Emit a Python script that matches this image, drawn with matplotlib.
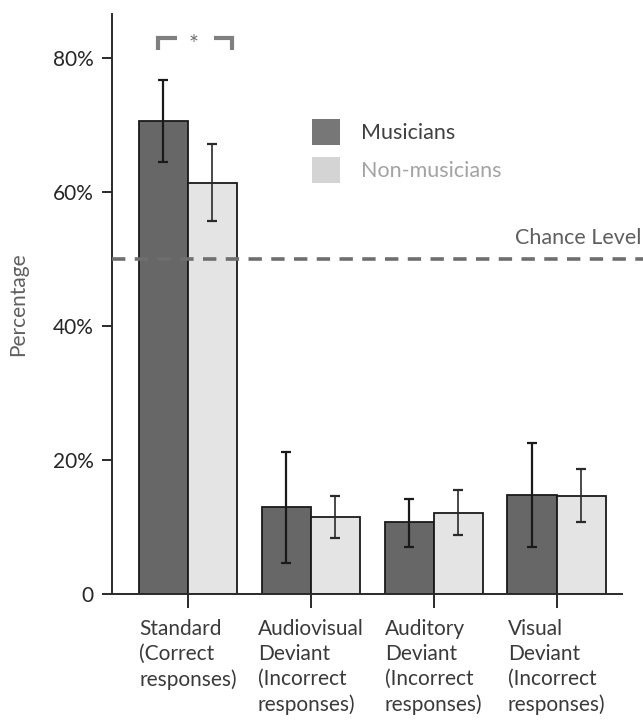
import numpy as np
import matplotlib
matplotlib.use("Agg")
import matplotlib.pyplot as plt
from matplotlib.patches import Patch

plt.rcParams['font.family'] = ['Lato', 'DejaVu Sans']

# data (percent)
categories = ["Standard\n(Correct\nresponses)",
              "Audiovisual\nDeviant\n(Incorrect\nresponses)",
              "Auditory\nDeviant\n(Incorrect\nresponses)",
              "Visual\nDeviant\n(Incorrect\nresponses)"]
musicians = [70.6, 13.0, 10.7, 14.8]
musicians_lo = [64.5, 4.7, 7.1, 7.0]
musicians_hi = [76.7, 21.2, 14.2, 22.6]
nonmusicians = [61.3, 11.5, 12.1, 14.7]
nonmusicians_lo = [55.7, 8.3, 8.8, 10.7]
nonmusicians_hi = [67.1, 14.7, 15.6, 18.7]
yticks = [0, 20, 40, 60, 80]
ytick_labels = ["0", "20%", "40%", "60%", "80%"]
chance = 50

x = np.arange(len(categories))
w = 0.4

fig = plt.figure(figsize=(6.43, 7.21), dpi=100)
ax = fig.add_axes([0.174, 0.176, 0.793, 0.805])

m = np.array(musicians)
n = np.array(nonmusicians)
m_err = [m - np.array(musicians_lo), np.array(musicians_hi) - m]
n_err = [n - np.array(nonmusicians_lo), np.array(nonmusicians_hi) - n]

ax.bar(x - w / 2, m, w, color="#676767", edgecolor="#1a1a1a", linewidth=1.3, zorder=2)
ax.bar(x + w / 2, n, w, color="#e4e4e4", edgecolor="#1a1a1a", linewidth=1.3, zorder=2)
ax.errorbar(x - w / 2, m, yerr=m_err, fmt="none", ecolor="#1a1a1a",
            elinewidth=1.6, capsize=3.5, capthick=1.6, zorder=4)
ax.errorbar(x + w / 2, n, yerr=n_err, fmt="none", ecolor="#2a2a2a",
            elinewidth=1.2, capsize=3.5, capthick=1.6, zorder=4)

# chance level
ax.plot([-0.618, 3.70], [chance, chance], color="#6e6e6e", lw=2.6,
        dashes=(3.7, 2.6), clip_on=False, zorder=3)
ax.text(3.69, chance + 1.7, "Chance Level", color="#5f5f5f", fontsize=15.5,
        ha="right", va="bottom")

# significance bracket
bc = "#7f7f7f"
ax.plot([-0.244, -0.244, -0.09], [81.2, 82.9, 82.9], color=bc, lw=3,
        solid_capstyle="butt", solid_joinstyle="miter")
ax.plot([0.21, 0.358, 0.358], [82.9, 82.9, 81.2], color=bc, lw=3,
        solid_capstyle="butt", solid_joinstyle="miter")
ax.text(0.05, 82.0, "*", color="#707070", fontsize=17, ha="center", va="center")

ax.set_xlim(-0.618, 3.53)
ax.set_ylim(0, 86.6)
ax.set_yticks(yticks)
ax.set_yticklabels(ytick_labels)
ax.set_xticks(x)
ax.set_xticklabels(categories, ha="center", multialignment="left", linespacing=1.32)

for s in ["top", "right"]:
    ax.spines[s].set_visible(False)
for s in ["left", "bottom"]:
    ax.spines[s].set_color("#2a2a2a")
    ax.spines[s].set_linewidth(1.4)
ax.tick_params(axis="y", length=7, width=1.4, color="#2a2a2a", labelsize=15,
               labelcolor="#262626", pad=6)
ax.tick_params(axis="x", length=10, width=1.4, color="#2a2a2a", labelsize=15,
               labelcolor="#3a3a3a", pad=8)

ax.set_ylabel("Percentage", color="#5f5f5f", fontsize=15, labelpad=18)

handles = [Patch(facecolor="#777777", edgecolor="none"),
           Patch(facecolor="#d4d4d4", edgecolor="none")]
ax.legend(handles, ["Musicians", "Non-musicians"], loc="upper left",
          bbox_to_anchor=(0.355, 0.852), frameon=False, fontsize=15.5,
          labelcolor=["#404040", "#a3a3a3"], handlelength=1.3, handleheight=1.45,
          handletextpad=0.95, labelspacing=0.6)

fig.savefig("out.png", dpi=100)
